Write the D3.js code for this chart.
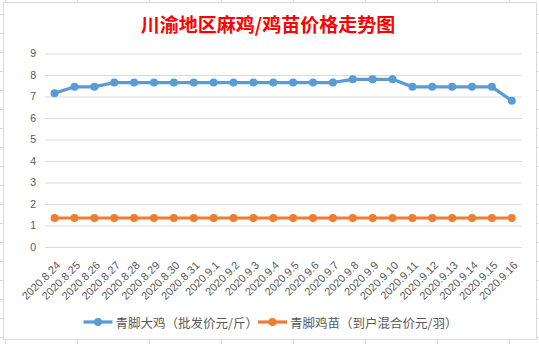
<!DOCTYPE html>
<html><head><meta charset="utf-8">
<script src="https://cdn.jsdelivr.net/npm/d3@7"></script>
<style>html,body{margin:0;padding:0;background:#fff;overflow:hidden}</style>
</head><body><svg id="c" width="539" height="344"></svg>
<script>
const titleText = "川渝地区麻鸡/鸡苗价格走势图";
const categories = ["2020.8.24","2020.8.25","2020.8.26","2020.8.27","2020.8.28","2020.8.29","2020.8.30","2020.8.31","2020.9.1","2020.9.2","2020.9.3","2020.9.4","2020.9.5","2020.9.6","2020.9.7","2020.9.8","2020.9.9","2020.9.10","2020.9.11","2020.9.12","2020.9.13","2020.9.14","2020.9.15","2020.9.16"];
const seriesNames = ["青脚大鸡（批发价元/斤）","青脚鸡苗（到户混合价元/羽）"];
const chickenPrice = [7.15,7.45,7.45,7.65,7.65,7.65,7.65,7.65,7.65,7.65,7.65,7.65,7.65,7.65,7.65,7.8,7.8,7.8,7.45,7.45,7.45,7.45,7.45,6.8];
const chickPrice = [1.35,1.35,1.35,1.35,1.35,1.35,1.35,1.35,1.35,1.35,1.35,1.35,1.35,1.35,1.35,1.35,1.35,1.35,1.35,1.35,1.35,1.35,1.35,1.35];
const yTicks = [0,1,2,3,4,5,6,7,8,9];
const colors = ["#5B9BD5","#ED7D31"];

const svg = d3.select("#c");
const bg = svg.append("g");
for (let y = 14; y < 344; y += 19) bg.append("line").attr("x1",0).attr("x2",539).attr("y1",y+0.5).attr("y2",y+0.5).attr("stroke","#dadada");
for (let x = 5; x < 539; x += 72) bg.append("line").attr("x1",x+0.5).attr("x2",x+0.5).attr("y1",0).attr("y2",344).attr("stroke","#dadada");
svg.append("rect").attr("x",3.5).attr("y",2.5).attr("width",533).attr("height",337).attr("fill","#fff").attr("stroke","#d9d9d9");

svg.append("text").attr("x",268).attr("y",23.5).attr("text-anchor","middle").attr("dominant-baseline","central")
  .attr("font-family","'Noto Sans CJK SC'").attr("font-size",19).attr("font-weight","bold").attr("fill","#ff0000").text(titleText);

const x = d3.scalePoint().domain(categories).range([54.6, 511.8]);
const y = d3.scaleLinear().domain([0,9]).range([247, 53.5]);

const yAxis = d3.axisLeft(y).tickValues(yTicks).tickSize(-(521.5-45)).tickPadding(9).tickFormat(d3.format("d"));
const gy = svg.append("g").attr("transform","translate(45,0)").call(yAxis);
gy.select(".domain").remove();
gy.selectAll(".tick line").attr("stroke","#d9d9d9").attr("stroke-width",1);
gy.selectAll(".tick text").attr("fill","#595959").attr("font-family","'Liberation Sans'").attr("font-size",10.5);

const xAxis = d3.axisBottom(x).tickSize(0).tickPadding(0);
const gx = svg.append("g").attr("transform","translate(0,247)").call(xAxis);
gx.select(".domain").remove();
gx.selectAll(".tick text").attr("fill","#595959").attr("font-family","'Liberation Sans'").attr("font-size",11)
  .attr("text-anchor","end").attr("dy",null).attr("y",null)
  .attr("transform","translate(6,19) rotate(-45)");

const series = [chickenPrice, chickPrice];
series.forEach((vals,i)=>{
  const line = d3.line().x((d,j)=>x(categories[j])).y(d=>y(d));
  svg.append("path").datum(vals).attr("d",line).attr("fill","none").attr("stroke",colors[i]).attr("stroke-width",3.2).attr("stroke-linejoin","round");
  svg.append("g").selectAll("circle").data(vals).join("circle")
    .attr("cx",(d,j)=>x(categories[j])).attr("cy",d=>y(d)).attr("r",4).attr("fill",colors[i]);
});

const legX = [83.5, 258];
const leg = svg.append("g");
seriesNames.forEach((n,i)=>{
  leg.append("line").attr("x1",legX[i]).attr("x2",legX[i]+29).attr("y1",322).attr("y2",322).attr("stroke",colors[i]).attr("stroke-width",3.2);
  leg.append("circle").attr("cx",legX[i]+14.5).attr("cy",322).attr("r",4).attr("fill",colors[i]);
  leg.append("text").attr("x",legX[i]+32).attr("y",322).attr("dominant-baseline","central")
    .attr("font-family","'Noto Sans CJK SC'").attr("font-size",12.5).attr("fill","#595959").text(n);
});
</script></body></html>
